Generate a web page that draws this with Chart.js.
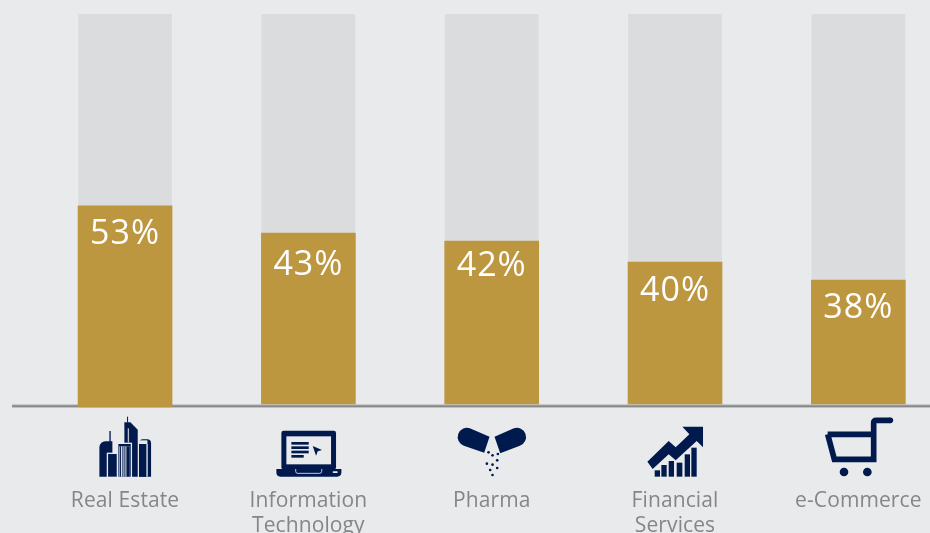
<!DOCTYPE html>
<html><head><meta charset="utf-8">
<style>html,body{margin:0;padding:0;width:930px;height:533px;overflow:hidden;background:#E9EAEC}canvas{display:block}</style>
<script src="https://cdn.jsdelivr.net/npm/chart.js@4"></script></head>
<body><canvas id="c" width="950" height="533" style="width:950px;height:533px"></canvas>
<script>
const categories = [["Real Estate"],["Information","Technology"],["Pharma"],["Financial","Services"],["e-Commerce"]];
const percentLabels = ["53%","43%","42%","40%","38%"];
const barHeights = [50.8,43.8,41.8,36.4,31.8];
const barBases = [-0.75,0,0,0,0];
const trackValues = [100,100,100,100,100];
const labelDrop = [28,32,25,29,28];
const NAVY='#001A4D', BG='#E9EAEC';

function poly(c,pts,fill){c.fillStyle=fill||NAVY;c.beginPath();pts.forEach((p,i)=>i?c.lineTo(p[0],p[1]):c.moveTo(p[0],p[1]));c.closePath();c.fill();}
function rect(c,x0,y0,x1,y1,fill){c.fillStyle=fill||NAVY;c.fillRect(x0,y0,x1-x0,y1-y0);}
function dot(c,x,y,r){c.fillStyle=NAVY;c.beginPath();c.arc(x,y,r,0,Math.PI*2);c.fill();}
function rr(c,x0,y0,x1,y1,r,fill){c.fillStyle=fill||NAVY;c.beginPath();c.roundRect(x0,y0,x1-x0,y1-y0,r);c.fill();}
const D=Math.PI/180;

const icons=[
 {cx:195,draw(c){
  rect(c,148,108,152,142);
  rr(c,118,139,157,245,[18,0,0,0]);
  rect(c,140,173,173,247,BG);
  rect(c,144,177,170,245);
  rect(c,201,65,204,82);
  poly(c,[[193,82],[211,82],[233,104],[233,245],[193,245]]);
  rect(c,172,143,216,247,BG);
  rect(c,175,147,212,245);
  rect(c,178,154,209,245,BG);
  rect(c,180,154,183,245);rect(c,187,154,190,245);rect(c,193,154,196,245);
  rect(c,199,154,209,245);
  rect(c,203,100,207,143,'#B8BFCF');
  rr(c,237,133,273,245,[12,12,0,0]);
  rect(c,237,136,262,147,BG);
  rect(c,237,147,259,245);
  rect(c,259,147,263,245,BG);
 }},
 {cx:744,draw(c){
  rr(c,663,107,827,224,7);
  rect(c,678,124,812,208,BG);
  rect(c,693,141,745,149);rect(c,693,154,745,162);rect(c,693,167,745,175);rect(c,693,180,730,188);
  poly(c,[[757,153],[785,165],[772,169],[767,182]]);
  c.fillStyle=NAVY;c.beginPath();c.moveTo(648,222);c.lineTo(843,222);c.lineTo(843,232);c.quadraticCurveTo(843,245,830,245);c.lineTo(660,245);c.quadraticCurveTo(648,245,648,232);c.closePath();c.fill();
  c.strokeStyle=BG;c.lineWidth=2.5;c.beginPath();c.moveTo(706,222);c.lineTo(706,229);c.quadraticCurveTo(706,235,712,235);c.lineTo(778,235);c.quadraticCurveTo(784,235,784,229);c.lineTo(784,222);c.stroke();
  rr(c,817,229,832,234,2,BG);
 }},
 {cx:184.5,draw(c){
  c.fillStyle=NAVY;
  c.beginPath();c.moveTo(178,125);c.lineTo(162,173);c.lineTo(101,152);c.arc(110,126,27.5,109*D,289*D);c.closePath();c.fill();
  c.beginPath();c.moveTo(193,125);c.lineTo(251,100);c.arc(260,126,27.5,-109*D,71*D);c.lineTo(210,175);c.closePath();c.fill();
  [[175,172],[187,181],[203,177],[201,196],[170,206],[187,209],[201,219],[180,225],[187,240]].forEach(p=>dot(c,p[0],p[1],4));
 }},
 {cx:735,draw(c){
  poly(c,[[652,200],[716,138],[737,157],[778,118],[757,95],[819,95],[819,157],[800,138],[737,196],[716,178],[668,222]]);
  rect(c,674,226,690,245);rect(c,694,210,710,245);rect(c,716,198,732,245);rect(c,740,203,757,245);rect(c,764,178,780,245);rect(c,784,158,800,245);
 }},
 {cx:234,draw(c){
  c.strokeStyle=NAVY;c.lineWidth=17;c.lineJoin='miter';c.lineCap='butt';
  c.beginPath();c.moveTo(142,118);c.lineTo(280,118);c.moveTo(142,118);c.lineTo(162,193);c.lineTo(280,193);c.lineTo(280,84);c.quadraticCurveTo(280,76,288,76);c.lineTo(330,76);c.stroke();
  c.beginPath();c.arc(330,76,8.5,0,Math.PI*2);c.fillStyle=NAVY;c.fill();
  dot(c,191,231,13);dot(c,261,231,13);
 }}
];

const decor={id:'decor',
 beforeDraw(ch){ch.ctx.letterSpacing='0.1px';},
 beforeDatasetsDraw(ch){
  const c=ch.ctx,y=ch.scales.y.getPixelForValue(0);
  c.save();
  c.fillStyle='#C9CACC';c.fillRect(12,y,ch.width,1.4);
  c.fillStyle='#87888A';c.fillRect(12,y+1.2,ch.width,2.2);
  c.restore();
 },
 afterDatasetsDraw(ch){
  const c=ch.ctx,m=ch.getDatasetMeta(0),axis=ch.scales.y.getPixelForValue(0);
  c.save();
  c.fillStyle='#fff';c.textAlign='center';c.textBaseline='middle';
  c.font='34px "Open Sans"';c.letterSpacing='1px';
  m.data.forEach((b,i)=>c.fillText(percentLabels[i],b.x,b.y+labelDrop[i]));
  c.restore();
  icons.forEach((ic,i)=>{
   const x=ch.scales.x.getPixelForTick(i);
   c.save();c.translate(x,axis-9);c.scale(1/3,1/3);c.translate(-ic.cx,0);ic.draw(c);c.restore();
  });
 }};

new Chart(document.getElementById('c'),{
 type:'bar',
 data:{labels:categories,datasets:[
  {data:barHeights.map((v,i)=>[barBases[i],v]),backgroundColor:'#BD9640',barThickness:94,grouped:false,clip:false,order:1},
  {data:trackValues,backgroundColor:'#DBDCDE',barThickness:93,grouped:false,order:2}
 ]},
 options:{responsive:false,animation:false,
  layout:{padding:{left:33.4,top:14,right:0,bottom:0}},
  plugins:{legend:{display:false},tooltip:{enabled:false}},
  scales:{
   y:{display:false,min:0,max:100},
   x:{offset:true,grid:{display:false},border:{display:false},
      afterFit(s){s.height=129;s.paddingLeft=0;s.paddingRight=0;},
      ticks:{autoSkip:false,maxRotation:0,minRotation:0,padding:76,color:'#868686',
             font:{family:'"Open Sans"',size:21,lineHeight:1.2}}}
  }
 },
 plugins:[decor]
});
</script></body></html>
